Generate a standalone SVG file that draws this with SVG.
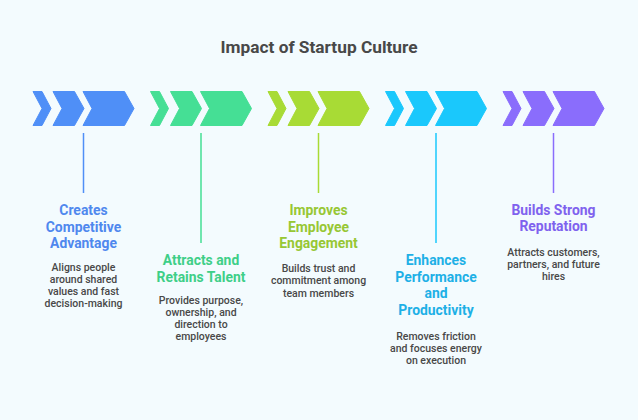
<svg xmlns="http://www.w3.org/2000/svg" width="638" height="420" viewBox="0 0 638 420">
<defs>
<style>
.title{font-family:Roboto,"Liberation Sans",sans-serif;font-weight:700;font-size:17.3px;fill:#484848;text-anchor:middle}
.h{font-family:Roboto,"Liberation Sans",sans-serif;font-weight:700;font-size:13.9px;text-anchor:middle}
.d{font-family:Roboto,"Liberation Sans",sans-serif;font-weight:500;font-size:10.5px;fill:#484848;text-anchor:middle}
.ln{stroke-width:1.5;fill:none}
.chev{stroke-linejoin:round;stroke-width:1}
</style>
<g id="chevs">
<polygon points="0,0 9,0 18,17 9,34 0,34 9,17"/>
<polygon points="20,0 41.5,0 51,17 41.5,34 20,34 29,17"/>
<polygon points="50,0 91.5,0 101,17 91.5,34 50,34 59,17"/>
</g>
</defs>
<rect width="638" height="420" fill="#F3FBFE"/>
<text class="title" x="319" y="52.5">Impact of Startup Culture</text>

<g id="connectors">
<line class="ln" x1="83.5" y1="133" x2="83.5" y2="193" stroke="#4F8FF7"/>
<line class="ln" x1="201" y1="133" x2="201" y2="243" stroke="#45DF95"/>
<line class="ln" x1="318.5" y1="133" x2="318.5" y2="193" stroke="#A8DB35"/>
<line class="ln" x1="436" y1="133" x2="436" y2="243" stroke="#1AC8FC"/>
<line class="ln" x1="553.5" y1="133" x2="553.5" y2="193" stroke="#8A6DFC"/>
</g>

<g id="node1">
<use href="#chevs" x="33" y="91.5" fill="#4F8FF7" class="chev" stroke="#4F8FF7"/>
<text class="h" fill="#4F88EE"><tspan x="83.5" y="215">Creates</tspan><tspan x="83.5" y="231.5">Competitive</tspan><tspan x="83.5" y="248">Advantage</tspan></text>
<text class="d"><tspan x="83.5" y="270.5">Aligns people</tspan><tspan x="83.5" y="282.7">around shared</tspan><tspan x="83.5" y="294.9">values and fast</tspan><tspan x="83.5" y="307.1">decision-making</tspan></text>
</g>

<g id="node2">
<use href="#chevs" x="150.5" y="91.5" fill="#45DF95" class="chev" stroke="#45DF95"/>
<text class="h" fill="#3ECF88"><tspan x="201" y="265">Attracts and</tspan><tspan x="201" y="281.5">Retains Talent</tspan></text>
<text class="d"><tspan x="201" y="303.8">Provides purpose,</tspan><tspan x="201" y="316">ownership, and</tspan><tspan x="201" y="328.2">direction to</tspan><tspan x="201" y="340.4">employees</tspan></text>
</g>

<g id="node3">
<use href="#chevs" x="268" y="91.5" fill="#A8DB35" class="chev" stroke="#A8DB35"/>
<text class="h" fill="#97C734"><tspan x="318.5" y="215">Improves</tspan><tspan x="318.5" y="231.5">Employee</tspan><tspan x="318.5" y="248">Engagement</tspan></text>
<text class="d"><tspan x="318.5" y="272">Builds trust and</tspan><tspan x="318.5" y="284.4">commitment among</tspan><tspan x="318.5" y="296.8">team members</tspan></text>
</g>

<g id="node4">
<use href="#chevs" x="385.5" y="91.5" fill="#1AC8FC" class="chev" stroke="#1AC8FC"/>
<text class="h" fill="#1EB0E6"><tspan x="436" y="265">Enhances</tspan><tspan x="436" y="281.5">Performance</tspan><tspan x="436" y="298">and</tspan><tspan x="436" y="315">Productivity</tspan></text>
<text class="d"><tspan x="436" y="339.8">Removes friction</tspan><tspan x="436" y="352">and focuses energy</tspan><tspan x="436" y="364.2">on execution</tspan></text>
</g>

<g id="node5">
<use href="#chevs" x="503" y="91.5" fill="#8A6DFC" class="chev" stroke="#8A6DFC"/>
<text class="h" fill="#7F62EE"><tspan x="553.5" y="215">Builds Strong</tspan><tspan x="553.5" y="231">Reputation</tspan></text>
<text class="d"><tspan x="553.5" y="255.5">Attracts customers,</tspan><tspan x="553.5" y="267.8">partners, and future</tspan><tspan x="553.5" y="280.1">hires</tspan></text>
</g>
</svg>
